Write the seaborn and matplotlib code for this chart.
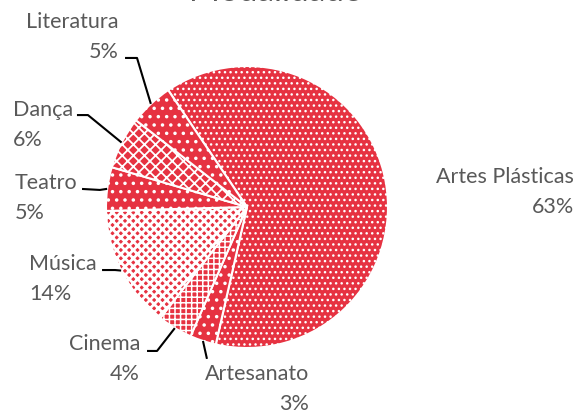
import numpy as np
import matplotlib
matplotlib.use("Agg")
import matplotlib.pyplot as plt
import seaborn as sns

# ==========================================
# DATA
# ==========================================

categories = ["Artes Plásticas", "Artesanato", "Cinema", "Música",
              "Teatro", "Dança", "Literatura"]
shares = [63, 3, 4, 14, 5, 6, 5]
title = "Modalidade"

# ==========================================
# STYLE / LAYOUT
# ==========================================

sns.set_theme(style="white")
plt.rcParams["font.family"] = ["Lato", "DejaVu Sans"]
plt.rcParams["hatch.linewidth"] = 1.0

red = "#E63241"
grey = "#595959"

hatches = ["...", "..", "+++", "xxxx", "..", "xxx", ".."]
hatch_lw = [1.0, 1.3, 1.1, 2.0, 1.3, 1.3, 1.3]

# label anchor (data units, pie radius = 1) and alignment
label_pos = [(2.319, 0.113, "right"), (0.440, -1.285, "right"),
             (-0.759, -1.071, "right"), (-1.546, -0.504, "left"),
             (-1.645, 0.071, "left"), (-1.660, 0.589, "left"),
             (-0.908, 1.213, "right")]
# leader line: end point near text, then elbow (None = straight)
leaders = [None, ((-0.284, -1.077), None),
           ((-0.709, -1.021), (-0.638, -1.021)),
           ((-1.028, -0.447), (-0.936, -0.447)),
           ((-1.170, 0.128), (-1.043, 0.121)),
           ((-1.206, 0.652), (-1.128, 0.652)),
           ((-0.865, 1.057), (-0.780, 1.057))]

# ==========================================
# PLOT
# ==========================================

fig = plt.figure(figsize=(5.77, 4.14), dpi=100)
ax = fig.add_axes([0, 0, 1, 1])

wedges, _ = ax.pie(shares, startangle=124, counterclock=False,
                   colors=[red] * len(shares),
                   wedgeprops=dict(edgecolor="white", linewidth=1.5))

for w, h, lw in zip(wedges, hatches, hatch_lw):
    w.set_hatch(h)
    if hasattr(w, "set_hatch_linewidth"):
        w.set_hatch_linewidth(lw)

total = sum(shares)
for w, name, val, (tx, ty, ha), ld in zip(wedges, categories, shares,
                                           label_pos, leaders):
    ax.text(tx, ty, f"{name}\n{round(100 * val / total)}%", ha=ha,
            va="center", multialignment=ha, fontsize=15.5, color=grey,
            linespacing=1.6)
    if ld is None:
        continue
    mid = np.deg2rad((w.theta1 + w.theta2) / 2)
    edge = (np.cos(mid), np.sin(mid))
    pts = [ld[0]] + ([ld[1]] if ld[1] is not None else []) + [edge]
    xs, ys = zip(*pts)
    ax.plot(xs, ys, color="black", lw=1.5, solid_capstyle="butt")

ax.set_xlim(-247 / 141, 330 / 141)
ax.set_ylim(-206 / 141, 208 / 141)
ax.set_aspect("auto")
ax.axis("off")

# title sits mostly above the canvas, as in the reference
fig.text(0.477, 1 - 1 / 414, title, ha="center", va="baseline",
         fontsize=24, color=grey)

fig.savefig("out.png", dpi=100)
